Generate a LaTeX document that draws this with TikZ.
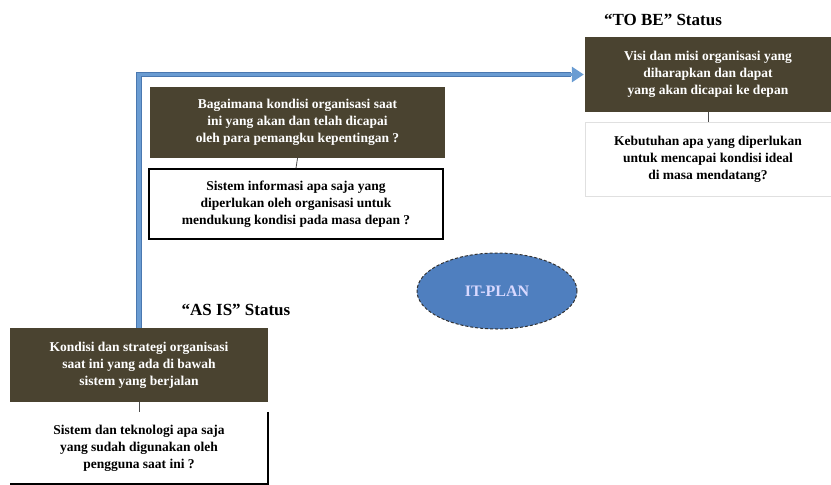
\documentclass[tikz,border=0pt]{standalone}
\usepackage{fontspec}
\setmainfont{Liberation Serif}
\usetikzlibrary{arrows.meta,shapes.geometric}
\definecolor{darkbox}{HTML}{4A4330}
\definecolor{flowblue}{HTML}{6A9CD2}
\definecolor{flowedge}{HTML}{4A78B0}
\definecolor{ellfill}{HTML}{4F7FBF}
\tikzset{
  darkstyle/.style={rectangle, fill=darkbox, text=white, font=\bfseries\fontsize{13.5}{17}\selectfont, align=center, inner sep=2pt},
  whitestyle/.style={rectangle, fill=white, text=black, font=\bfseries\fontsize{13.5}{17}\selectfont, align=center, inner sep=2pt},
  statuslabel/.style={font=\bfseries\fontsize{17}{19}\selectfont, text=black},
  tick/.style={draw=black!70, line width=0.8pt}
}
\begin{document}
\begin{tikzpicture}[x=1pt,y=-1pt]
\useasboundingbox (0,0) rectangle (831,485);
% TO BE
\node[statuslabel] (tobelabel) at (663,20) {“TO BE” Status};
\node[darkstyle, minimum width=246pt, minimum height=75pt] (tobedark) at (708,74.5)
  {Visi dan misi organisasi yang\\ diharapkan dan dapat\\ yang akan dicapai ke depan};
\node[whitestyle, draw=black!12, minimum width=246pt, minimum height=74pt] (tobewhite) at (708,159)
  {Kebutuhan apa yang diperlukan\\ untuk mencapai kondisi ideal\\ di masa mendatang?};
\draw[tick] (tobedark.south) -- (tobewhite.north);
% middle
\node[darkstyle, minimum width=295pt, minimum height=71pt] (middark) at (297.5,122.5)
  {Bagaimana kondisi organisasi saat\\ ini yang akan dan telah dicapai\\ oleh para pemangku kepentingan ?};
\node[whitestyle, draw=black, line width=1.5pt, minimum width=294pt, minimum height=70pt] (midwhite) at (296,204)
  {Sistem informasi apa saja yang\\ diperlukan oleh organisasi untuk\\ mendukung kondisi pada masa depan ?};
\draw[tick] (middark.south) -- (midwhite.north);
% AS IS
\node[statuslabel] (asislabel) at (236,310) {“AS IS” Status};
\node[darkstyle, minimum width=258pt, minimum height=74pt] (asisdark) at (139,365)
  {Kondisi dan strategi organisasi\\ saat ini yang ada di bawah\\ sistem yang berjalan};
\node[whitestyle, minimum width=258pt, minimum height=72pt] (asiswhite) at (139,448)
  {Sistem dan teknologi apa saja\\ yang sudah digunakan oleh\\ pengguna saat ini ?};
\draw[black, line width=1.5pt] (asiswhite.north east) -- (asiswhite.south east) -- (asiswhite.south west);
\draw[tick] (asisdark.south) -- (asiswhite.north);
% flow arrow
\coordinate (bend) at (asisdark.north |- tobedark.west);
\draw[flowedge, line width=5.5pt] (asisdark.north) -- (bend) -- ([xshift=-14pt]tobedark.west);
\draw[flowblue, line width=3.5pt, -{Triangle[width=15pt,length=12pt]}] (asisdark.north) -- (bend) -- ([xshift=-1pt]tobedark.west);
% ellipse
\node[ellipse, fill=ellfill, draw=black!80, densely dashed, line width=1pt, minimum width=160pt, minimum height=76pt, text=white!85!blue, font=\bfseries\fontsize{16}{18}\selectfont] (itplan) at (497,291) {IT-PLAN};
\end{tikzpicture}
\end{document}
